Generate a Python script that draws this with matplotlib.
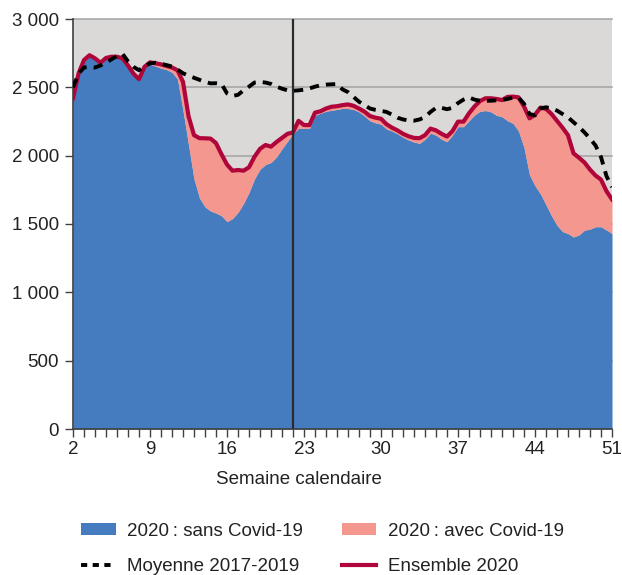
import matplotlib
matplotlib.use("Agg")
import matplotlib.pyplot as plt
from matplotlib.patches import Patch
from matplotlib.lines import Line2D
from matplotlib.ticker import FuncFormatter, MultipleLocator
import numpy as np

plt.rcParams['font.family'] = ['Liberation Sans', 'DejaVu Sans']

# Calendar weeks (half-week resolution)
weeks = np.arange(2, 51.01, 0.5)

# Total deaths 2020 (all causes)
total_2020 = [
    2420, 2600, 2700, 2735, 2712, 2680, 2715, 2724, 2724, 2712,
    2660, 2600, 2560, 2650, 2683, 2676, 2668, 2656, 2645, 2625,
    2540, 2290, 2150, 2128, 2127, 2125, 2092, 2010, 1935, 1890,
    1895, 1890, 1915, 1992, 2050, 2078, 2066, 2100, 2130, 2160,
    2170, 2255, 2224, 2224, 2315, 2325, 2345, 2358, 2362, 2370,
    2375, 2365, 2345, 2322, 2290, 2278, 2270, 2230, 2205, 2185,
    2160, 2142, 2130, 2128, 2150, 2198, 2185, 2160, 2140, 2180,
    2249, 2249, 2310, 2360, 2400, 2420, 2420, 2415, 2407, 2430,
    2432, 2427, 2360, 2273, 2300, 2352, 2342, 2305, 2255, 2205,
    2150, 2017, 1985, 1950, 1898, 1855, 1825, 1740, 1680,
]

# Deaths 2020 without Covid-19
sans_covid = [
    2410, 2590, 2690, 2725, 2702, 2670, 2705, 2714, 2714, 2702,
    2650, 2590, 2550, 2640, 2670, 2655, 2640, 2630, 2610, 2560,
    2330, 2080, 1830, 1690, 1625, 1595, 1580, 1560, 1517, 1540,
    1585, 1650, 1730, 1830, 1900, 1935, 1950, 1990, 2050, 2105,
    2160, 2200, 2200, 2200, 2295, 2310, 2325, 2332, 2338, 2346,
    2345, 2338, 2320, 2290, 2255, 2240, 2230, 2195, 2180, 2160,
    2135, 2115, 2100, 2090, 2120, 2165, 2150, 2120, 2102, 2150,
    2212, 2212, 2255, 2297, 2325, 2330, 2320, 2295, 2285, 2255,
    2237, 2180, 2060, 1860, 1780, 1720, 1640, 1560, 1490, 1445,
    1430, 1405, 1420, 1455, 1462, 1480, 1480, 1456, 1430,
]

# Average 2017-2019
moyenne_2017_2019 = [
    2500, 2600, 2645, 2650, 2645, 2660, 2680, 2705, 2730, 2745,
    2690, 2650, 2625, 2655, 2675, 2680, 2672, 2663, 2652, 2630,
    2603, 2585, 2570, 2555, 2540, 2529, 2530, 2525, 2456, 2437,
    2445, 2478, 2505, 2535, 2540, 2535, 2525, 2505, 2490, 2478,
    2475, 2478, 2483, 2492, 2505, 2515, 2520, 2522, 2524, 2485,
    2465, 2430, 2395, 2370, 2345, 2335, 2328, 2320, 2300, 2278,
    2265, 2258, 2256, 2265, 2282, 2320, 2350, 2350, 2340, 2350,
    2385, 2410, 2427, 2410, 2402, 2402, 2402, 2405, 2407, 2415,
    2425, 2425, 2380, 2305, 2295, 2346, 2354, 2346, 2330, 2305,
    2280, 2245, 2210, 2170, 2125, 2075, 1990, 1850, 1770,
]

week_ticks = [2, 9, 16, 23, 30, 37, 44, 51]
y_ticks = [0, 500, 1000, 1500, 2000, 2500, 3000]
marker_week = 22

BLUE = '#447cbf'
PINK = '#f4978e'
RED = '#b0053a'
BG = '#dad9d8'
GRID = '#a3a3a3'

fig = plt.figure(figsize=(6.22, 5.75), dpi=100)
ax = fig.add_axes([73 / 622, 1 - 429 / 575, 539 / 622, 410 / 575])
ax.set_facecolor(BG)

ax.set_xlim(2, 51)
ax.set_ylim(0, 3000)

for yv in y_ticks[1:]:
    ax.axhline(yv, color=GRID, lw=1.1, zorder=1, clip_on=False)

ax.fill_between(weeks, 0, sans_covid, color=BLUE, lw=0, zorder=2)
ax.fill_between(weeks, sans_covid, total_2020, color=PINK, lw=0, zorder=2)
ax.plot(weeks, total_2020, color=RED, lw=3.0, zorder=3, solid_joinstyle='round')
ax.axvline(marker_week, color='#2b2b2b', lw=1.6, zorder=4)
ax.plot(weeks, moyenne_2017_2019, color='black', lw=2.8, ls=(0, (2.4, 1.8)),
        dash_capstyle='butt', zorder=5)

ax.set_yticks(y_ticks)
ax.yaxis.set_major_formatter(FuncFormatter(lambda v, p: f"{int(v):,}".replace(",", " ")))
ax.set_xticks(week_ticks)
ax.xaxis.set_minor_locator(MultipleLocator(1))

for s in ['top', 'right']:
    ax.spines[s].set_visible(False)
for s in ['left', 'bottom']:
    ax.spines[s].set_color('#404040')
    ax.spines[s].set_linewidth(1.2)

ax.tick_params(axis='both', which='both', direction='out', color='#404040',
               width=1.0, labelsize=13.5, labelcolor='#222222')
ax.tick_params(axis='y', length=6, pad=4)
ax.tick_params(axis='x', which='both', length=6, pad=3)

ax.set_xlabel('Semaine calendaire', fontsize=13.5, color='#222222', labelpad=7)
ax.xaxis.set_label_coords(0.42, -0.103)

handles = [
    Patch(facecolor=BLUE, edgecolor='none'),
    Line2D([], [], color='black', lw=2.8, ls=(0, (1.6, 1.4)), dash_capstyle='butt'),
    Patch(facecolor=PINK, edgecolor='none'),
    Line2D([], [], color=RED, lw=3.0),
]
labels = [
    '2020\u202f: sans Covid-19',
    'Moyenne 2017-2019',
    '2020\u202f: avec Covid-19',
    'Ensemble 2020',
]
fig.legend(handles, labels, ncol=2, frameon=False, fontsize=13.5,
           loc='center left', bbox_to_anchor=(81 / 622, 1 - 549 / 575),
           handlelength=1.85, handleheight=0.55, handletextpad=0.62,
           columnspacing=2.05, labelspacing=1.0, borderaxespad=0,
           borderpad=0, labelcolor='#222222')

fig.savefig('out.png', dpi=100)
